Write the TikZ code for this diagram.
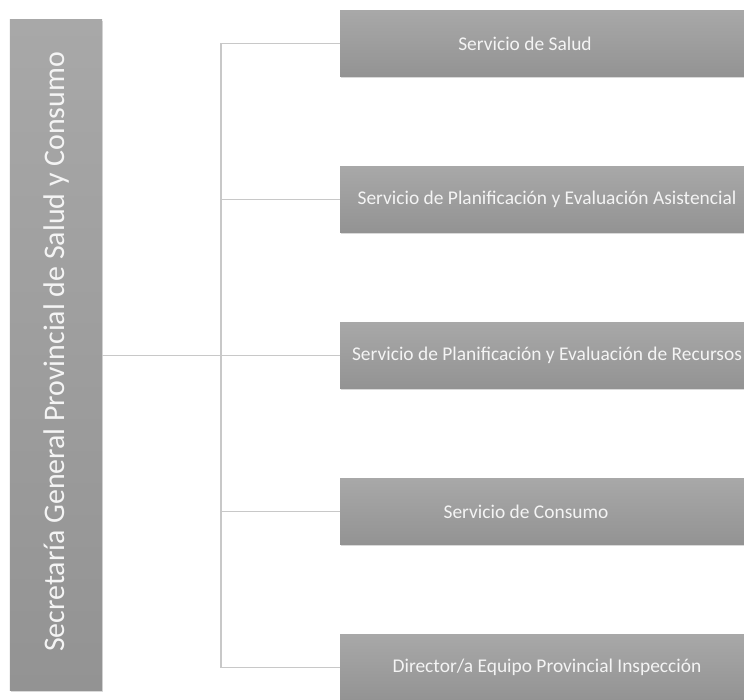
\documentclass[tikz,border=0pt]{standalone}
\usepackage{fontspec}
\setmainfont{Carlito}
\usetikzlibrary{shadows,positioning}
\definecolor{boxtop}{HTML}{A8A8A8}
\definecolor{boxbot}{HTML}{939393}
\definecolor{txt}{HTML}{F4F4F4}
\definecolor{conn}{HTML}{C8C8C8}
\tikzset{
  orgbox/.style={rectangle, inner sep=0pt, top color=boxtop, bottom color=boxbot, draw=none,
     drop shadow={shadow xshift=1bp, shadow yshift=-1.5bp, opacity=0.25, fill=black!60}},
  boxtext/.style={text=txt, font=\fontsize{19.5}{22}\selectfont, inner sep=0pt},
  conline/.style={draw=conn, line width=1.6bp}
}
\begin{document}
\begin{tikzpicture}[x=1bp,y=-1bp]
\useasboundingbox (0,0) rectangle (744,700);
\clip (0,0) rectangle (744,700);
% left box
\node[orgbox, minimum width=92bp, minimum height=670bp] (sg) at (56,355) {};
\node[boxtext, font=\fontsize{30}{34}\selectfont, rotate=90] (sgt) at (57,352) {Secretaría General Provincial de Salud y Consumo};
% right boxes
\node[orgbox, minimum width=420bp, minimum height=66bp, anchor=west] (b1) at (340,43.5) {};
\node[orgbox, minimum width=420bp, minimum height=66bp, anchor=west] (b2) at (340,199.5) {};
\node[orgbox, minimum width=420bp, minimum height=66bp, anchor=west] (b3) at (340,355.5) {};
\node[orgbox, minimum width=420bp, minimum height=66bp, anchor=west] (b4) at (340,511.5) {};
\node[orgbox, minimum width=420bp, minimum height=66bp, anchor=west] (b5) at (340,667.5) {};
\node[boxtext] (t1) at (525,43.5) {Servicio de Salud};
\node[boxtext] (t2) at (547,199.5) {Servicio de Planificación y Evaluación Asistencial};
\node[boxtext] (t3) at (547,355.5) {Servicio de Planificación y Evaluación de Recursos};
\node[boxtext] (t4) at (526,511.5) {Servicio de Consumo};
\node[boxtext] (t5) at (547,667.5) {Director/a Equipo Provincial Inspección};
% connectors
\coordinate (bus) at (221,355.5);
\draw[conline] (sg.east |- bus) -- (bus);
\draw[conline] (b1.west) -| (bus |- b5.west) -- (b5.west);
\draw[conline] (bus |- b2.west) -- (b2.west);
\draw[conline] (bus |- b3.west) -- (b3.west);
\draw[conline] (bus |- b4.west) -- (b4.west);
\end{tikzpicture}
\end{document}
